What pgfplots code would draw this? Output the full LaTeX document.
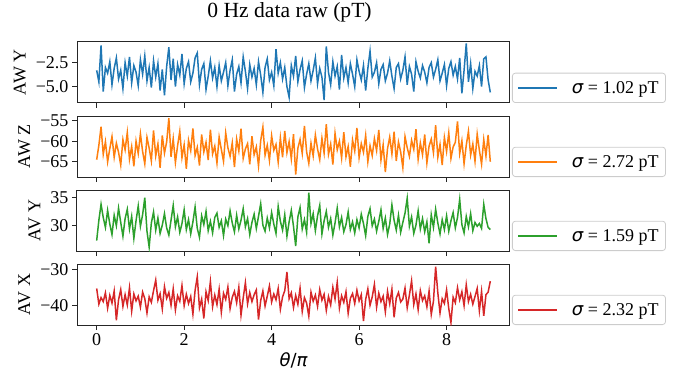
\documentclass[border=0pt]{standalone}
\usepackage{pgfplots}
\pgfplotsset{compat=1.18}
\usepackage{pgfplotstable}
\usepackage{fontspec}
\setmainfont{Liberation Serif}
\newfontfamily\djv{DejaVu Sans}
\definecolor{c0}{HTML}{1F77B4}
\definecolor{c1}{HTML}{FF7F0E}
\definecolor{c2}{HTML}{2CA02C}
\definecolor{c3}{HTML}{D62728}

\pgfplotstableread{
x a b c d
0.00 -3.3 -64.5 27.2 -35.3
0.05 -4.5 -61.0 30.9 -39.6
0.10 -0.7 -56.5 33.8 -37.8
0.15 -5.5 -63.2 31.4 -38.9
0.20 -3.0 -60.1 29.6 -36.5
0.25 -3.6 -65.0 32.7 -40.7
0.30 -2.4 -61.8 30.2 -37.2
0.35 -4.8 -58.9 28.3 -39.3
0.40 -3.1 -63.9 31.8 -36.0
0.45 -2.0 -60.5 29.9 -44.0
0.50 -4.2 -62.7 33.1 -38.4
0.55 -3.3 -65.8 30.5 -35.6
0.60 -5.2 -59.6 28.0 -40.2
0.65 -2.5 -62.1 31.2 -37.0
0.70 -3.9 -57.9 32.9 -39.8
0.75 -1.9 -64.4 29.3 -35.1
0.80 -4.6 -61.3 31.6 -41.5
0.85 -2.8 -66.1 27.6 -36.8
0.90 -3.5 -60.0 30.8 -38.7
0.95 -4.9 -63.0 33.5 -37.4
1.00 -2.2 -58.2 29.8 -40.4
1.05 -3.7 -62.5 31.9 -36.3
1.10 -1.8 -65.5 35.0 -38.1
1.15 -4.4 -59.1 28.9 -42.0
1.20 -3.0 -61.7 26.0 -37.6
1.25 -5.1 -64.8 30.4 -39.1
1.30 -2.3 -57.4 32.4 -35.9
1.35 -4.0 -63.6 29.1 -33.0
1.40 -2.6 -60.7 31.3 -38.5
1.45 -5.4 -66.5 28.5 -36.7
1.50 -3.2 -58.6 30.0 -40.9
1.55 -5.9 -62.9 32.1 -34.8
1.60 -2.9 -60.2 29.5 -38.0
1.65 -0.9 -54.4 28.2 -36.4
1.70 -4.3 -63.8 30.9 -39.9
1.75 -2.1 -59.4 33.6 -35.4
1.80 -5.0 -65.2 29.7 -41.2
1.85 -2.7 -61.1 31.5 -37.3
1.90 -3.8 -57.6 28.7 -38.8
1.95 -1.6 -64.0 30.3 -34.5
2.00 -4.7 -60.9 32.8 -40.0
2.05 -3.1 -66.7 29.2 -36.9
2.10 -2.4 -59.8 31.0 -39.4
2.15 -4.5 -62.3 28.4 -37.5
2.20 -3.6 -56.9 30.6 -42.3
2.25 -2.0 -63.5 33.3 -35.8
2.30 -1.5 -61.5 29.4 -32.1
2.35 -4.8 -65.9 27.8 -40.6
2.40 -3.2 -58.4 31.7 -38.2
2.45 -2.6 -62.6 30.1 -43.5
2.50 -5.3 -60.3 32.5 -36.2
2.55 -3.9 -64.6 29.0 -38.6
2.60 -2.3 -57.2 30.7 -33.4
2.65 -4.1 -63.1 28.6 -40.3
2.70 -3.0 -61.2 31.4 -37.1
2.75 -5.0 -65.3 32.2 -39.7
2.80 -2.8 -59.0 29.6 -35.5
2.85 -4.4 -62.0 30.8 -41.8
2.90 -3.5 -64.9 28.1 -36.6
2.95 -2.5 -58.0 31.1 -38.3
3.00 -4.9 -61.6 29.9 -34.9
3.05 -3.3 -63.7 32.6 -40.8
3.10 -2.2 -60.4 30.4 -37.7
3.15 -5.5 -66.3 28.8 -36.1
3.20 -3.7 -59.5 31.8 -39.2
3.25 -2.9 -62.4 29.3 -35.0
3.30 -4.6 -57.0 30.9 -42.6
3.35 -1.9 -64.2 33.0 -37.9
3.40 -3.4 -61.9 29.7 -33.7
3.45 -5.2 -60.6 31.2 -39.5
3.50 -2.7 -65.6 28.3 -36.4
3.55 -4.0 -58.8 30.5 -38.9
3.60 -3.1 -63.3 32.0 -37.0
3.65 -4.8 -61.4 29.4 -35.7
3.70 -2.4 -66.0 31.6 -43.8
3.75 -3.8 -59.9 33.9 -38.6
3.80 -5.6 -56.6 30.0 -36.0
3.85 -3.0 -63.4 28.9 -40.1
3.90 -2.1 -61.0 31.3 -37.4
3.95 -4.3 -64.7 29.5 -34.6
4.00 -3.5 -58.7 32.3 -39.0
4.05 -4.9 -62.2 30.2 -36.8
4.10 -1.1 -60.8 28.5 -38.4
4.15 -3.6 -65.1 33.4 -35.3
4.20 -2.5 -59.2 30.7 -41.0
4.25 -4.2 -63.9 29.1 -37.6
4.30 -3.0 -57.5 31.9 -35.9
4.35 -5.0 -62.8 28.0 -30.8
4.40 -6.1 -60.1 30.6 -38.1
4.45 -2.8 -64.3 32.7 -36.5
4.50 -3.9 -58.3 29.8 -40.5
4.55 -1.8 -68.1 26.2 -37.2
4.60 -4.5 -61.7 31.5 -39.6
4.65 -3.2 -59.6 33.2 -35.2
4.70 -2.3 -63.0 29.3 -41.6
4.75 -5.1 -56.3 31.0 -37.8
4.80 -3.7 -62.6 28.7 -39.3
4.85 -2.6 -65.4 35.9 -42.9
4.90 -4.4 -60.5 30.3 -36.3
4.95 -3.3 -63.6 32.1 -38.8
5.00 -2.0 -58.5 29.0 -37.1
5.05 -4.7 -61.9 31.7 -40.2
5.10 -3.1 -64.5 33.6 -35.6
5.15 -4.0 -59.3 28.4 -38.5
5.20 -6.4 -62.9 30.8 -36.9
5.25 -0.8 -55.9 32.5 -41.3
5.30 -3.5 -63.2 29.6 -37.5
5.35 -4.8 -60.7 31.2 -39.8
5.40 -2.4 -65.7 28.2 -35.0
5.45 -3.9 -58.1 30.4 -38.2
5.50 -2.9 -62.1 33.1 -33.6
5.55 -5.3 -60.0 29.7 -40.7
5.60 -1.7 -64.1 31.4 -37.3
5.65 -4.1 -57.8 28.8 -39.1
5.70 -3.0 -63.8 30.1 -36.2
5.75 -4.6 -61.3 32.4 -42.1
5.80 -2.6 -66.2 29.2 -38.0
5.85 -3.7 -59.7 30.6 -36.7
5.90 -5.0 -62.4 28.6 -39.4
5.95 -2.2 -56.8 31.0 -35.8
6.00 -3.4 -64.0 29.5 -38.7
6.05 -4.3 -60.6 32.0 -37.0
6.10 -2.8 -62.7 30.3 -44.2
6.15 -5.4 -58.6 28.1 -38.3
6.20 -3.1 -65.0 31.6 -35.4
6.25 -1.3 -61.1 33.0 -39.9
6.30 -4.0 -63.5 29.9 -37.6
6.35 -3.5 -59.4 31.1 -34.2
6.40 -2.5 -62.3 28.9 -40.4
6.45 -4.7 -57.3 30.7 -36.6
6.50 -3.2 -64.6 32.8 -38.9
6.55 -2.7 -60.9 29.4 -37.4
6.60 -4.4 -67.5 31.3 -41.7
6.65 -3.6 -61.8 28.3 -36.1
6.70 -2.3 -59.0 30.2 -39.5
6.75 -3.9 -63.1 33.7 -35.5
6.80 -5.2 -57.7 30.9 -43.2
6.85 -3.0 -64.8 29.1 -37.9
6.90 -2.6 -60.2 31.8 -36.4
6.95 -4.2 -62.6 28.7 -39.0
7.00 -3.3 -66.4 30.5 -38.2
7.05 -1.9 -58.9 32.2 -35.2
7.10 -4.8 -61.6 34.9 -40.6
7.15 -2.9 -63.7 29.8 -37.1
7.20 -3.7 -59.8 31.5 -33.2
7.25 -5.5 -62.0 28.5 -39.7
7.30 -2.4 -57.1 30.0 -36.8
7.35 -3.4 -64.4 32.6 -41.1
7.40 -4.1 -60.4 29.3 -35.9
7.45 -2.8 -63.3 31.2 -38.6
7.50 -3.5 -58.4 28.8 -37.3
7.55 -4.6 -65.3 30.6 -40.3
7.60 -3.0 -61.2 26.7 -36.0
7.65 -2.5 -59.5 31.9 -42.4
7.70 -4.0 -62.8 29.6 -38.8
7.75 -3.2 -56.1 32.9 -29.3
7.80 -2.2 -63.9 30.4 -36.5
7.85 -4.4 -60.8 28.4 -42.0
7.90 -3.6 -65.8 31.0 -38.1
7.95 -2.7 -59.1 29.2 -39.4
8.00 -4.9 -62.5 31.7 -35.7
8.05 -3.1 -58.0 28.9 -40.8
8.10 -2.4 -64.2 30.8 -44.6
8.15 -3.8 -61.4 32.3 -37.7
8.20 -2.9 -60.3 29.5 -39.2
8.25 -4.2 -55.2 31.4 -35.1
8.30 -2.0 -63.0 34.7 -38.4
8.35 -5.7 -59.9 30.1 -36.2
8.40 -3.3 -65.5 28.6 -40.0
8.45 -0.5 -61.0 31.6 -34.3
8.50 -4.5 -57.6 29.7 -38.9
8.55 -2.6 -63.4 32.1 -36.9
8.60 -5.2 -60.7 29.0 -39.6
8.65 -3.4 -64.9 30.5 -37.5
8.70 -3.9 -58.3 29.8 -35.3
8.75 -2.8 -62.2 30.3 -41.4
8.80 -5.0 -65.6 29.4 -36.1
8.85 -2.1 -59.6 33.8 -42.8
8.90 -1.9 -63.6 31.2 -37.0
8.95 -4.3 -58.5 29.6 -36.3
9.00 -5.6 -65.0 29.2 -33.3
}\datatable

\pgfplotsset{
  panel/.style={
    scale only axis, width=433pt, height=61pt,
    xmin=-0.45, xmax=9.45,
    xtick={0,2,4,6,8},
    tick align=outside, major tick length=5pt,
    xtick pos=left, ytick pos=left,
    axis line style={black!85, line width=1pt},
    every tick/.style={black!85, line width=1pt},
    tick label style={font=\fontsize{18}{20}\selectfont},
    label style={font=\fontsize{18}{20}\selectfont},
    ylabel style={yshift=3pt},
    legend style={at={(1,0)}, anchor=south west, xshift=2pt,
      draw=black!20, line width=0.8pt, rounded corners=3pt,
      fill=white, font=\fontsize{18}{20}\selectfont,
      inner xsep=5pt, inner ysep=6pt},
    legend image code/.code={\draw[##1, line width=1.6pt] (0pt,0pt) -- (39pt,0pt);},
    legend cell align=left,
    every axis plot/.append style={line width=1.5pt, no markers},
  }
}

\begin{document}
\begin{tikzpicture}
\useasboundingbox (0,0) rectangle (690pt,-377pt);
\node[font=\fontsize{21.6}{24}\selectfont] at (289.5pt,-12pt) {0 Hz data raw (pT)};

\begin{axis}[panel, at={(77pt,-103pt)}, anchor=south west,
  ymin=-6.7, ymax=-0.35, ytick={-5,-2.5}, yticklabels={−5.0,−2.5},
  xticklabels={}, ylabel={AW Y}]
\addplot[c0] table[x=x, y=a] {\datatable};
\addlegendentry{\hspace{12pt}{\djv\itshape σ} = 1.02 pT}
\end{axis}

\begin{axis}[panel, at={(77pt,-177pt)}, anchor=south west,
  ymin=-68.7, ymax=-53.9, ytick={-65,-60,-55}, yticklabels={−65,−60,−55},
  xticklabels={}, ylabel={AW Z}]
\addplot[c1] table[x=x, y=b] {\datatable};
\addlegendentry{\hspace{12pt}{\djv\itshape σ} = 2.72 pT}
\end{axis}

\begin{axis}[panel, at={(77pt,-251pt)}, anchor=south west,
  ymin=25.3, ymax=36.4, ytick={30,35}, yticklabels={30,35},
  xticklabels={}, ylabel={AV Y}]
\addplot[c2] table[x=x, y=c] {\datatable};
\addlegendentry{\hspace{12pt}{\djv\itshape σ} = 1.59 pT}
\end{axis}

\begin{axis}[panel, at={(77pt,-325pt)}, anchor=south west,
  ymin=-45.3, ymax=-28.6, ytick={-40,-30}, yticklabels={−40,−30},
  xticklabels={0,2,4,6,8}, ylabel={AV X},
  xlabel={{\djv\itshape θ}{\djv/}{\djv\itshape π}}]
\addplot[c3] table[x=x, y=d] {\datatable};
\addlegendentry{\hspace{12pt}{\djv\itshape σ} = 2.32 pT}
\end{axis}
\end{tikzpicture}
\end{document}
